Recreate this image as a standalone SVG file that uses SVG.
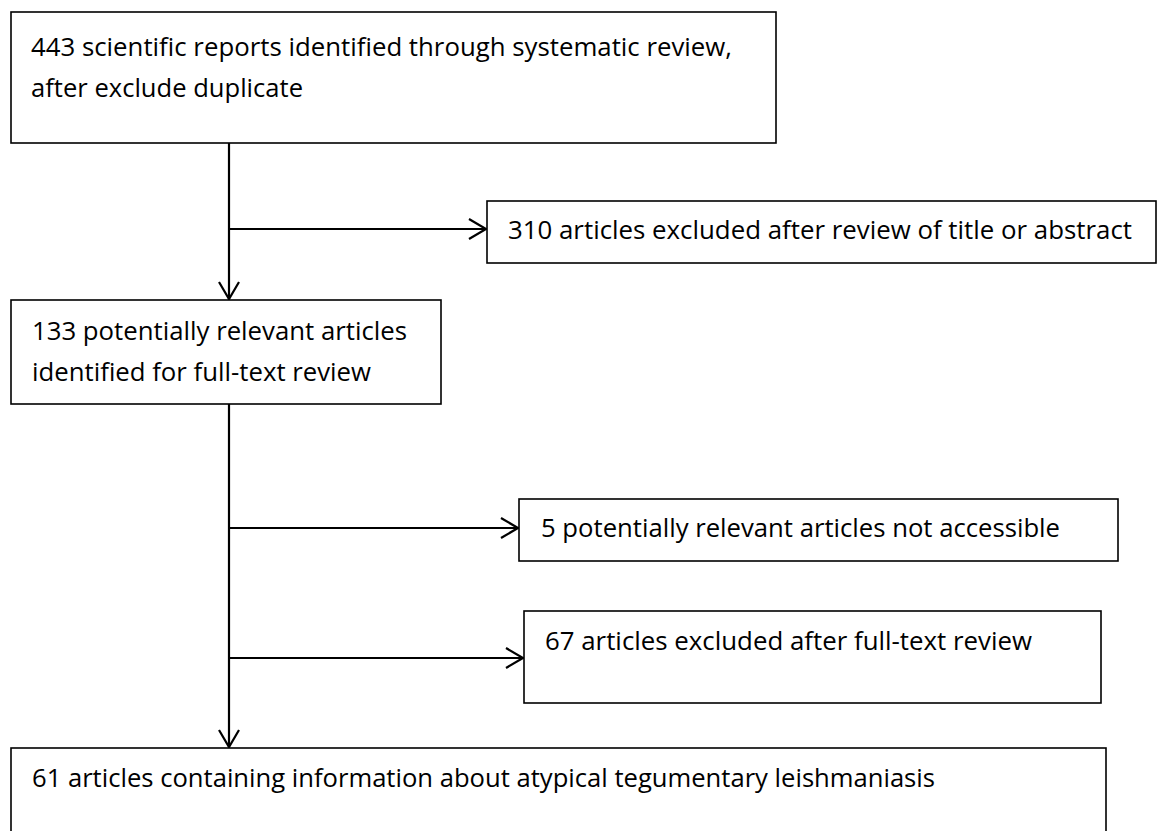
<svg xmlns="http://www.w3.org/2000/svg" width="1157" height="831" viewBox="0 0 1157 831">
<defs>
<marker id="arr" markerUnits="userSpaceOnUse" markerWidth="22" markerHeight="24" refX="18" refY="11" orient="auto" viewBox="0 0 22 24">
<path d="M1,1 L18,11 L1,21" fill="none" stroke="#000" stroke-width="2.2"/>
</marker>
<style>
.box{fill:#fff;stroke:#000;stroke-width:1.6}
.t{font-family:"Open Sans","Liberation Sans",sans-serif;font-size:25px;fill:#000}
.c{fill:none;stroke:#000;stroke-width:2.2}
</style>
</defs>
<rect width="1157" height="831" fill="#fff"/>
<g id="connectors">
<line class="c" x1="229" y1="143" x2="229" y2="299" marker-end="url(#arr)"/>
<line class="c" x1="229" y1="229" x2="486" y2="229" marker-end="url(#arr)"/>
<line class="c" x1="229" y1="404" x2="229" y2="747" marker-end="url(#arr)"/>
<line class="c" x1="229" y1="528" x2="518" y2="528" marker-end="url(#arr)"/>
<line class="c" x1="229" y1="658" x2="523" y2="658" marker-end="url(#arr)"/>
</g>
<g id="n1">
<rect class="box" x="11" y="12" width="765" height="131"/>
<text class="t" x="31" y="56" textLength="701" lengthAdjust="spacingAndGlyphs">443 scientific reports identified through systematic review,</text>
<text class="t" x="31" y="97" textLength="272" lengthAdjust="spacingAndGlyphs">after exclude duplicate</text>
</g>
<g id="n2">
<rect class="box" x="487" y="201" width="669" height="62"/>
<text class="t" x="508" y="239" textLength="624" lengthAdjust="spacingAndGlyphs">310 articles excluded after review of title or abstract</text>
</g>
<g id="n3">
<rect class="box" x="11" y="300" width="430" height="104"/>
<text class="t" x="32" y="340" textLength="375" lengthAdjust="spacingAndGlyphs">133 potentially relevant articles</text>
<text class="t" x="32" y="381" textLength="339" lengthAdjust="spacingAndGlyphs">identified for full-text review</text>
</g>
<g id="n4">
<rect class="box" x="519" y="499" width="599" height="62"/>
<text class="t" x="541" y="537" textLength="519" lengthAdjust="spacingAndGlyphs">5 potentially relevant articles not accessible</text>
</g>
<g id="n5">
<rect class="box" x="524" y="611" width="577" height="92"/>
<text class="t" x="545" y="650" textLength="487" lengthAdjust="spacingAndGlyphs">67 articles excluded after full-text review</text>
</g>
<g id="n6">
<rect class="box" x="11" y="748" width="1095" height="100"/>
<text class="t" x="32" y="787" textLength="903" lengthAdjust="spacingAndGlyphs">61 articles containing information about atypical tegumentary leishmaniasis</text>
</g>
</svg>
